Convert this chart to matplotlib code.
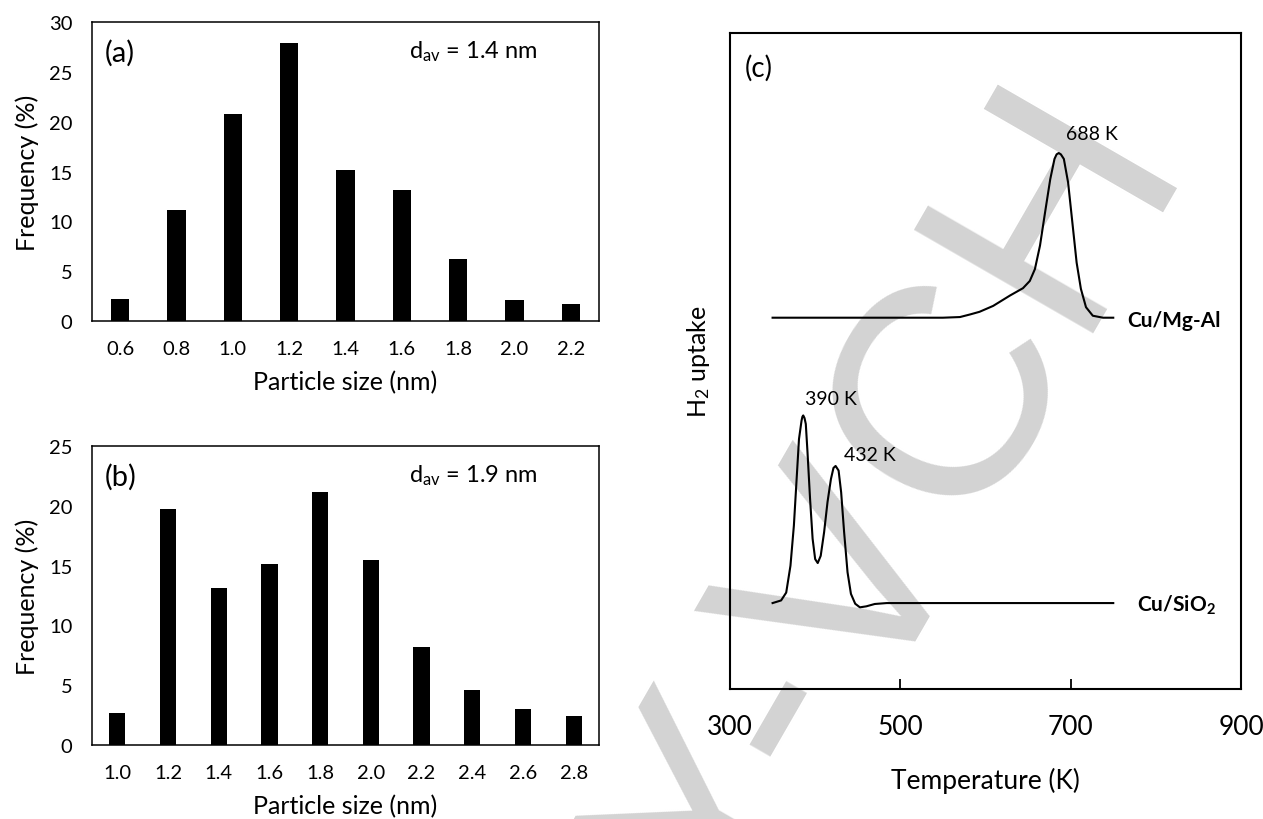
import matplotlib.pyplot as plt

plt.rcParams['font.family'] = ['Lato', 'DejaVu Sans']
plt.rcParams['mathtext.fontset'] = 'custom'
plt.rcParams['mathtext.rm'] = 'Lato'
plt.rcParams['mathtext.bf'] = 'Lato:bold'
plt.rcParams['mathtext.it'] = 'Lato:italic'

# (a) particle size distribution
size_a = ['0.6', '0.8', '1.0', '1.2', '1.4', '1.6', '1.8', '2.0', '2.2']
freq_a = [2.2, 11.1, 20.8, 27.9, 15.2, 13.1, 6.2, 2.1, 1.7]

# (b) particle size distribution
size_b = ['1.0', '1.2', '1.4', '1.6', '1.8', '2.0', '2.2', '2.4', '2.6', '2.8']
freq_b = [2.7, 19.7, 13.15, 15.1, 21.15, 15.45, 8.2, 4.6, 3.0, 2.4]

# (c) H2-TPR traces (arbitrary offset units)
mgal_T = [350, 550, 570, 582, 593, 609, 629, 644, 652, 658, 664, 670, 676,
          681, 683.5, 686, 688.5, 692, 697, 702, 707, 712, 718, 726, 738, 750]
mgal_y = [0.566, 0.566, 0.567, 0.571, 0.575, 0.584, 0.600, 0.611, 0.622, 0.640,
          0.676, 0.727, 0.777, 0.808, 0.815, 0.817, 0.815, 0.808, 0.772, 0.711,
          0.650, 0.610, 0.582, 0.569, 0.566, 0.566]

sio2_T = [350, 360, 366, 371, 375, 378, 381, 384, 385, 386, 387.5, 389, 391,
          394, 397, 400, 403, 406.5, 410.5, 414.5, 418.5, 421.5, 424, 427.5,
          430.5, 434, 438, 442, 447, 452.5, 460, 470, 484, 750]
sio2_y = [0.131, 0.135, 0.147, 0.188, 0.249, 0.315, 0.381, 0.409, 0.415, 0.417,
          0.413, 0.404, 0.361, 0.290, 0.229, 0.198, 0.192, 0.203, 0.239, 0.285,
          0.320, 0.337, 0.340, 0.333, 0.300, 0.239, 0.178, 0.145, 0.130, 0.1245,
          0.126, 0.1296, 0.131, 0.131]

W, H = 1263, 820
fig = plt.figure(figsize=(W / 100, H / 100), dpi=100)


def box(l, t, r, b):
    return [l / W, 1 - b / H, (r - l) / W, (b - t) / H]


# faint publisher watermark behind everything
fig.text(370 / W, 1 - 1585 / H, 'WILEY-VCH', rotation=60, rotation_mode='anchor',
         ha='left', va='baseline', fontsize=216, family='Liberation Sans',
         color='#d3d3d3', zorder=-5)


def hist_panel(ax, labels, values, ymax, tag, dav):
    x = list(range(len(labels)))
    ax.bar(x, values, width=0.32, color='black')
    ax.set_xlim(-0.5, len(labels) - 0.5)
    ax.set_ylim(0, ymax)
    ax.set_xticks(x, labels)
    ax.set_yticks(range(0, ymax + 1, 5))
    ax.tick_params(length=0, labelsize=14.5, pad=14)
    ax.set_xlabel('Particle size (nm)', fontsize=18, labelpad=9)
    ax.set_ylabel('Frequency (%)', fontsize=18, labelpad=7)
    for s in ax.spines.values():
        s.set_linewidth(1.1)
    ax.patch.set_alpha(0)
    ax.text(0.026, 0.9, tag, transform=ax.transAxes, fontsize=21, va='center')
    ax.text(0.626, 0.882, dav, transform=ax.transAxes, fontsize=17, va='baseline')


ax_a = fig.add_axes(box(92, 23, 599, 322))
hist_panel(ax_a, size_a, freq_a, 30, '(a)', r'd$_{\mathrm{av}}$ = 1.4 nm')
ax_b = fig.add_axes(box(92, 447, 599, 746))
hist_panel(ax_b, size_b, freq_b, 25, '(b)', r'd$_{\mathrm{av}}$ = 1.9 nm')

ax_c = fig.add_axes(box(730, 34, 1241, 690))
ax_c.plot(mgal_T, mgal_y, color='black', lw=1.5, solid_joinstyle='round')
ax_c.plot(sio2_T, sio2_y, color='black', lw=1.5, solid_joinstyle='round')
ax_c.set_xlim(300, 900)
ax_c.set_ylim(0, 1)
ax_c.set_xticks([300, 500, 700, 900])
ax_c.set_yticks([])
ax_c.tick_params(axis='x', direction='in', length=7, width=1.3, labelsize=19, pad=18)
ax_c.set_xlabel('Temperature (K)', fontsize=19, labelpad=20)
ax_c.set_ylabel(r'H$_2$ uptake', fontsize=18, labelpad=13)
for s in ax_c.spines.values():
    s.set_linewidth(1.5)
ax_c.patch.set_alpha(0)
ax_c.text(317, 0.948, '(c)', fontsize=20, va='center')
ax_c.text(694, 0.838, '688 K', fontsize=14, va='baseline')
ax_c.text(767, 0.554, 'Cu/Mg-Al', fontsize=15, fontweight='bold', va='baseline')
ax_c.text(388, 0.434, '390 K', fontsize=14, va='baseline')
ax_c.text(434, 0.349, '432 K', fontsize=14, va='baseline')
ax_c.text(778, 0.119, r'Cu/SiO$_\mathbf{2}$', fontsize=15, fontweight='bold', va='baseline')

fig.savefig('out.png', dpi=100)
